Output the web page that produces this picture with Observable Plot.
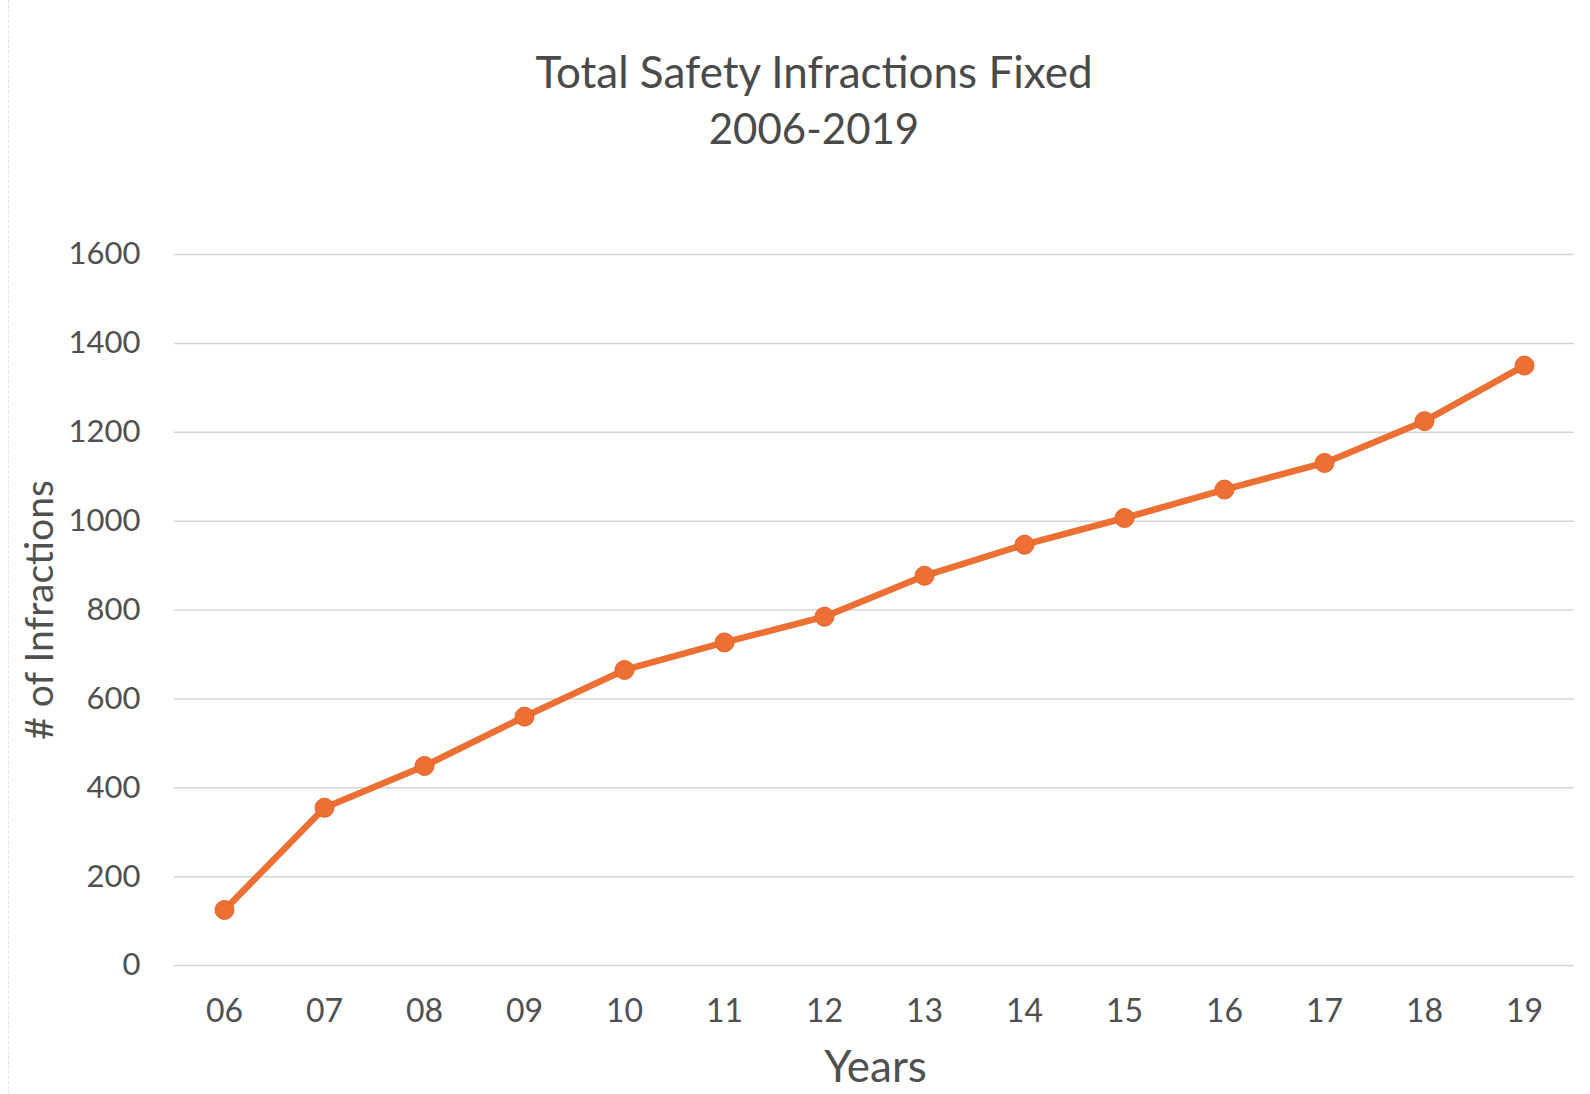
<!DOCTYPE html>
<html>
<head>
<meta charset="utf-8">
<script src="https://cdn.jsdelivr.net/npm/d3@7"></script>
<script src="https://cdn.jsdelivr.net/npm/@observablehq/plot@0.6"></script>
<style>
  html, body { margin: 0; padding: 0; background: #fff; }
  #wrap { position: relative; width: 1590px; height: 1094px; overflow: hidden; font-family: Lato, "Open Sans", sans-serif; color: #4a4a4a; }
  #border { position: absolute; left: 8px; top: 0; width: 0; height: 1094px; border-left: 1.5px dashed #e2e2e2; }
  .t { position: absolute; left: 0; width: 1628px; text-align: center; line-height: 1; }
  #chart { position: absolute; left: 0; top: 0; }
</style>
</head>
<body>
<div id="wrap">
  <div id="chart"></div>
  <div id="border"></div>
  <div class="t" style="top:49px; font-size:44px">Total Safety Infractions Fixed</div>
  <div class="t" style="top:107px; font-size:42px">2006-2019</div>
</div>
<script>
const years = ["06","07","08","09","10","11","12","13","14","15","16","17","18","19"];
const infractions = [125, 355, 449, 560, 665, 727, 785, 877, 947, 1007, 1071, 1131, 1225, 1350];
const yTicks = [0, 200, 400, 600, 800, 1000, 1200, 1400, 1600];

const data = years.map((y, i) => ({year: y, value: infractions[i]}));
const orange = "#EC6F33";

const chart = Plot.plot({
  width: 1590,
  height: 1094,
  marginLeft: 174,
  marginRight: 16,
  marginTop: 254,
  marginBottom: 129,
  style: {fontFamily: "Lato, 'Open Sans', sans-serif", color: "#505050", background: "transparent"},
  x: {type: "point", domain: years, padding: 0.5, label: null},
  y: {domain: [0, 1600], ticks: yTicks, label: null},
  marks: [
    Plot.gridY(yTicks, {stroke: "#d4d4d4", strokeOpacity: 1, strokeWidth: 1.5}),
    Plot.axisY(yTicks, {tickSize: 0, tickPadding: 34, fontSize: 31, fill: "#505050", label: null, tickFormat: d => String(d)}),
    Plot.axisX({tickSize: 0, tickPadding: 34, fontSize: 32, fill: "#505050", label: null}),
    Plot.text(["# of Infractions"], {frameAnchor: "left", dx: -134, rotate: -90, fontSize: 39, fill: "#505050", textAnchor: "middle"}),
    Plot.text(["Years"], {frameAnchor: "bottom", dy: 116, dx: 1, fontSize: 44, fill: "#505050"}),
    Plot.line(data, {x: "year", y: "value", stroke: orange, strokeWidth: 6.5, strokeLinejoin: "round", strokeLinecap: "round"}),
    Plot.dot(data, {x: "year", y: "value", r: 9.5, fill: orange, stroke: "#E5652B", strokeWidth: 1})
  ]
});
document.getElementById("chart").appendChild(chart);
</script>
</body>
</html>
